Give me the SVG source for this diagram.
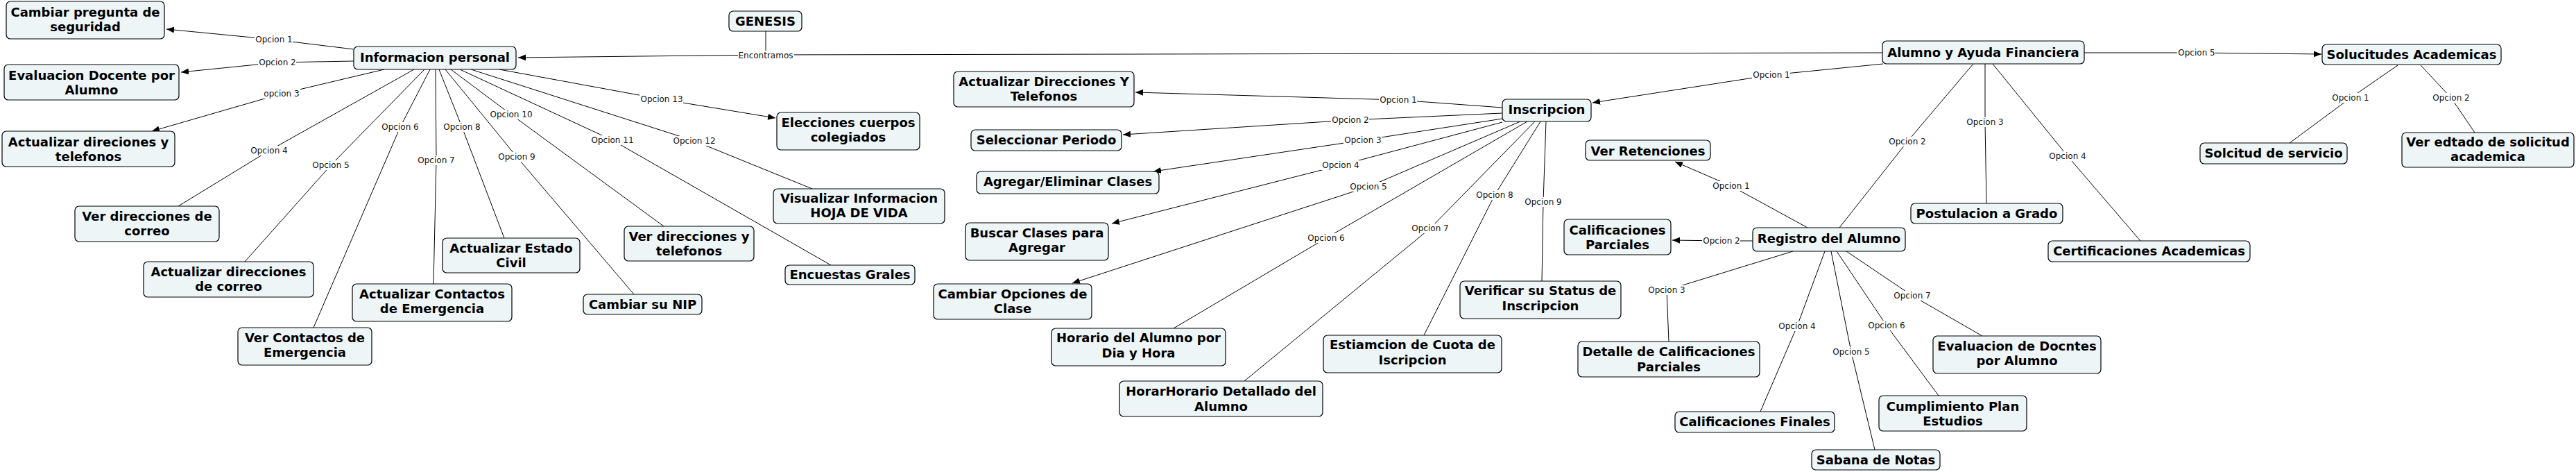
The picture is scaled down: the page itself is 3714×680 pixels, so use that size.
<svg xmlns="http://www.w3.org/2000/svg" width="3714" height="680" viewBox="0 0 3714 680">
<defs>
<style>
.node rect{fill:#eef5f7;stroke:#000;stroke-width:1.2}
.node text{font-family:"DejaVu Sans",Verdana,sans-serif;font-weight:bold;font-size:18px;text-anchor:middle;fill:#000}
.c{fill:none;stroke:#000;stroke-width:1}
.a{marker-end:url(#arr)}
.lb rect{fill:#fff}
.lb text{font-family:"DejaVu Sans",Verdana,sans-serif;font-size:12px;text-anchor:middle;fill:#111}
</style>
<marker id="arr" markerUnits="userSpaceOnUse" markerWidth="12" markerHeight="10" refX="11" refY="4.5" orient="auto">
<path d="M0,0 L11,4.5 L0,9 z" fill="#000"/>
</marker>
</defs>
<rect width="3714" height="680" fill="#fff"/>
<g id="connectors">
<polyline class="c" points="1104,45 1104,79"/>
<polyline class="c a" points="1104,79 747,83"/>
<polyline class="c" points="1104,79 2714,76"/>
<polyline class="c a" points="510,71 395,57 240,42"/>
<polyline class="c a" points="510,88 400,90 261,104"/>
<polyline class="c a" points="554,100 406,135 219,189"/>
<polyline class="c" points="597,100 388,217 257,297"/>
<polyline class="c" points="612,100 477,238 353,377"/>
<polyline class="c" points="620,100 577,183 452,472"/>
<polyline class="c" points="628,100 629,231 625,409"/>
<polyline class="c" points="633,100 666,183 727,343"/>
<polyline class="c" points="642,100 745,226 914,424"/>
<polyline class="c" points="650,100 737,165 957,326"/>
<polyline class="c" points="663,100 883,202 1198,382"/>
<polyline class="c" points="679,100 1001,203 1171,272"/>
<polyline class="c a" points="720,100 954,143 1118,170"/>
<polyline class="c a" points="2166,155 2016,144 1637,133"/>
<polyline class="c a" points="2166,163 1947,173 1619,194"/>
<polyline class="c a" points="2166,171 1965,202 1663,247"/>
<polyline class="c a" points="2166,176 1933,238 1603,322"/>
<polyline class="c a" points="2192,175 1973,269 1546,408"/>
<polyline class="c" points="2202,175 1912,343 1692,473"/>
<polyline class="c" points="2213,175 2062,329 1794,549"/>
<polyline class="c" points="2221,175 2155,281 2053,483"/>
<polyline class="c" points="2229,175 2225,291 2223,405"/>
<polyline class="c a" points="2715,92 2554,108 2296,148"/>
<polyline class="c" points="2845,92 2750,204 2652,328"/>
<polyline class="c" points="2862,92 2862,176 2864,293"/>
<polyline class="c" points="2873,92 2981,225 3086,347"/>
<polyline class="c a" points="3005,76 3167,76 3347,78"/>
<polyline class="c a" points="2606,328 2496,268 2415,233"/>
<polyline class="c a" points="2527,347 2482,347 2411,346"/>
<polyline class="c" points="2585,362 2403,418 2406,492"/>
<polyline class="c" points="2631,362 2591,470 2538,593"/>
<polyline class="c" points="2640,362 2669,507 2703,648"/>
<polyline class="c" points="2648,362 2720,469 2795,570"/>
<polyline class="c" points="2662,362 2757,426 2858,484"/>
<polyline class="c" points="3457,94 3389,141 3301,206"/>
<polyline class="c" points="3490,94 3534,141 3568,191"/>
<g class="lb"><rect x="1064" y="73" width="81" height="14"/><text x="1104" y="84">Encontramos</text></g>
<g class="lb"><rect x="367" y="50" width="55" height="14"/><text x="395" y="61">Opcion 1</text></g>
<g class="lb"><rect x="372" y="83" width="55" height="14"/><text x="400" y="94">Opcion 2</text></g>
<g class="lb"><rect x="380" y="128" width="53" height="14"/><text x="406" y="139">opcion 3</text></g>
<g class="lb"><rect x="360" y="210" width="55" height="14"/><text x="388" y="221">Opcion 4</text></g>
<g class="lb"><rect x="449" y="231" width="55" height="14"/><text x="477" y="242">Opcion 5</text></g>
<g class="lb"><rect x="549" y="176" width="55" height="14"/><text x="577" y="187">Opcion 6</text></g>
<g class="lb"><rect x="601" y="224" width="55" height="14"/><text x="629" y="235">Opcion 7</text></g>
<g class="lb"><rect x="638" y="176" width="55" height="14"/><text x="666" y="187">Opcion 8</text></g>
<g class="lb"><rect x="717" y="219" width="55" height="14"/><text x="745" y="230">Opcion 9</text></g>
<g class="lb"><rect x="705" y="158" width="63" height="14"/><text x="737" y="169">Opcion 10</text></g>
<g class="lb"><rect x="851" y="195" width="63" height="14"/><text x="883" y="206">Opcion 11</text></g>
<g class="lb"><rect x="969" y="196" width="63" height="14"/><text x="1001" y="207">Opcion 12</text></g>
<g class="lb"><rect x="922" y="136" width="63" height="14"/><text x="954" y="147">Opcion 13</text></g>
<g class="lb"><rect x="1988" y="137" width="55" height="14"/><text x="2016" y="148">Opcion 1</text></g>
<g class="lb"><rect x="1919" y="166" width="55" height="14"/><text x="1947" y="177">Opcion 2</text></g>
<g class="lb"><rect x="1937" y="195" width="55" height="14"/><text x="1965" y="206">Opcion 3</text></g>
<g class="lb"><rect x="1905" y="231" width="55" height="14"/><text x="1933" y="242">Opcion 4</text></g>
<g class="lb"><rect x="1945" y="262" width="55" height="14"/><text x="1973" y="273">Opcion 5</text></g>
<g class="lb"><rect x="1884" y="336" width="55" height="14"/><text x="1912" y="347">Opcion 6</text></g>
<g class="lb"><rect x="2034" y="322" width="55" height="14"/><text x="2062" y="333">Opcion 7</text></g>
<g class="lb"><rect x="2127" y="274" width="55" height="14"/><text x="2155" y="285">Opcion 8</text></g>
<g class="lb"><rect x="2197" y="284" width="55" height="14"/><text x="2225" y="295">Opcion 9</text></g>
<g class="lb"><rect x="2526" y="101" width="55" height="14"/><text x="2554" y="112">Opcion 1</text></g>
<g class="lb"><rect x="2722" y="197" width="55" height="14"/><text x="2750" y="208">Opcion 2</text></g>
<g class="lb"><rect x="2834" y="169" width="55" height="14"/><text x="2862" y="180">Opcion 3</text></g>
<g class="lb"><rect x="2953" y="218" width="55" height="14"/><text x="2981" y="229">Opcion 4</text></g>
<g class="lb"><rect x="3139" y="69" width="55" height="14"/><text x="3167" y="80">Opcion 5</text></g>
<g class="lb"><rect x="2468" y="261" width="55" height="14"/><text x="2496" y="272">Opcion 1</text></g>
<g class="lb"><rect x="2454" y="340" width="55" height="14"/><text x="2482" y="351">Opcion 2</text></g>
<g class="lb"><rect x="2375" y="411" width="55" height="14"/><text x="2403" y="422">Opcion 3</text></g>
<g class="lb"><rect x="2563" y="463" width="55" height="14"/><text x="2591" y="474">Opcion 4</text></g>
<g class="lb"><rect x="2641" y="500" width="55" height="14"/><text x="2669" y="511">Opcion 5</text></g>
<g class="lb"><rect x="2692" y="462" width="55" height="14"/><text x="2720" y="473">Opcion 6</text></g>
<g class="lb"><rect x="2729" y="419" width="55" height="14"/><text x="2757" y="430">Opcion 7</text></g>
<g class="lb"><rect x="3361" y="134" width="55" height="14"/><text x="3389" y="145">Opcion 1</text></g>
<g class="lb"><rect x="3506" y="134" width="55" height="14"/><text x="3534" y="145">Opcion 2</text></g>
</g>
<g id="genesis" class="node"><rect x="1051" y="16" width="105" height="29" rx="6"/><text x="1103.5" y="37">GENESIS</text></g>
<g id="informacion-personal" class="node"><rect x="510" y="67" width="234" height="33" rx="6"/><text x="627" y="89">Informacion personal</text></g>
<g id="cambiar-pregunta" class="node"><rect x="9" y="2" width="228" height="54" rx="6"/><text x="123" y="24">Cambiar pregunta de</text><text x="123" y="45">seguridad</text></g>
<g id="evaluacion-docente" class="node"><rect x="6" y="93" width="252" height="51" rx="6"/><text x="132" y="115">Evaluacion Docente por</text><text x="132" y="136">Alumno</text></g>
<g id="actualizar-direciones-telefonos" class="node"><rect x="3" y="189" width="249" height="51" rx="6"/><text x="127.5" y="211">Actualizar direciones y</text><text x="127.5" y="232">telefonos</text></g>
<g id="ver-direcciones-correo" class="node"><rect x="108" y="297" width="208" height="51" rx="6"/><text x="212" y="318">Ver direcciones de</text><text x="212" y="339">correo</text></g>
<g id="actualizar-direcciones-correo" class="node"><rect x="207" y="377" width="245" height="51" rx="6"/><text x="329.5" y="398">Actualizar direcciones</text><text x="329.5" y="419">de correo</text></g>
<g id="ver-contactos" class="node"><rect x="343" y="472" width="193" height="54" rx="6"/><text x="439.5" y="493">Ver Contactos de</text><text x="439.5" y="514">Emergencia</text></g>
<g id="actualizar-contactos" class="node"><rect x="508" y="409" width="230" height="54" rx="6"/><text x="623" y="430">Actualizar Contactos</text><text x="623" y="451">de Emergencia</text></g>
<g id="actualizar-estado-civil" class="node"><rect x="638" y="343" width="198" height="50" rx="6"/><text x="737" y="364">Actualizar Estado</text><text x="737" y="385">Civil</text></g>
<g id="cambiar-nip" class="node"><rect x="841" y="424" width="171" height="29" rx="6"/><text x="926.5" y="445">Cambiar su NIP</text></g>
<g id="ver-direcciones-telefonos" class="node"><rect x="900" y="326" width="187" height="50" rx="6"/><text x="993.5" y="347">Ver direcciones y</text><text x="993.5" y="368">telefonos</text></g>
<g id="encuestas" class="node"><rect x="1132" y="382" width="187" height="28" rx="6"/><text x="1225.5" y="402">Encuestas Grales</text></g>
<g id="visualizar" class="node"><rect x="1115" y="272" width="247" height="50" rx="6"/><text x="1238.5" y="292">Visualizar Informacion</text><text x="1238.5" y="313">HOJA DE VIDA</text></g>
<g id="elecciones" class="node"><rect x="1120" y="162" width="206" height="54" rx="6"/><text x="1223" y="183">Elecciones cuerpos</text><text x="1223" y="204">colegiados</text></g>
<g id="inscripcion" class="node"><rect x="2166" y="143" width="128" height="32" rx="6"/><text x="2230" y="164">Inscripcion</text></g>
<g id="actualizar-direcciones-y-telefonos" class="node"><rect x="1375" y="103" width="260" height="51" rx="6"/><text x="1505" y="124">Actualizar Direcciones Y</text><text x="1505" y="145">Telefonos</text></g>
<g id="seleccionar-periodo" class="node"><rect x="1400" y="187" width="217" height="30" rx="6"/><text x="1508.5" y="208">Seleccionar Periodo</text></g>
<g id="agregar-eliminar" class="node"><rect x="1408" y="247" width="263" height="32" rx="6"/><text x="1539.5" y="268">Agregar/Eliminar Clases</text></g>
<g id="buscar-clases" class="node"><rect x="1392" y="321" width="206" height="54" rx="6"/><text x="1495" y="342">Buscar Clases para</text><text x="1495" y="363">Agregar</text></g>
<g id="cambiar-opciones" class="node"><rect x="1346" y="409" width="228" height="51" rx="6"/><text x="1460" y="430">Cambiar Opciones de</text><text x="1460" y="451">Clase</text></g>
<g id="horario-dia-hora" class="node"><rect x="1516" y="473" width="251" height="54" rx="6"/><text x="1641.5" y="493">Horario del Alumno por</text><text x="1641.5" y="515">Dia y Hora</text></g>
<g id="horario-detallado" class="node"><rect x="1614" y="549" width="293" height="51" rx="6"/><text x="1760.5" y="570">HorarHorario Detallado del</text><text x="1760.5" y="592">Alumno</text></g>
<g id="estimacion-cuota" class="node"><rect x="1908" y="483" width="257" height="54" rx="6"/><text x="2036.5" y="503">Estiamcion de Cuota de</text><text x="2036.5" y="525">Iscripcion</text></g>
<g id="verificar-status" class="node"><rect x="2105" y="405" width="232" height="54" rx="6"/><text x="2221" y="425">Verificar su Status de</text><text x="2221" y="447">Inscripcion</text></g>
<g id="alumno-ayuda" class="node"><rect x="2714" y="59" width="291" height="33" rx="6"/><text x="2859.5" y="82">Alumno y Ayuda Financiera</text></g>
<g id="ver-retenciones" class="node"><rect x="2286" y="202" width="180" height="29" rx="6"/><text x="2376" y="224">Ver Retenciones</text></g>
<g id="calificaciones-parciales" class="node"><rect x="2255" y="316" width="154" height="51" rx="6"/><text x="2332" y="338">Calificaciones</text><text x="2332" y="359">Parciales</text></g>
<g id="registro-alumno" class="node"><rect x="2527" y="328" width="220" height="34" rx="6"/><text x="2637" y="350">Registro del Alumno</text></g>
<g id="detalle-calificaciones" class="node"><rect x="2275" y="492" width="262" height="51" rx="6"/><text x="2406" y="513">Detalle de Calificaciones</text><text x="2406" y="535">Parciales</text></g>
<g id="calificaciones-finales" class="node"><rect x="2415" y="593" width="230" height="30" rx="6"/><text x="2530" y="614">Calificaciones Finales</text></g>
<g id="sabana-notas" class="node"><rect x="2612" y="648" width="185" height="29" rx="6"/><text x="2704.5" y="669">Sabana de Notas</text></g>
<g id="cumplimiento-plan" class="node"><rect x="2709" y="570" width="213" height="51" rx="6"/><text x="2815.5" y="592">Cumplimiento Plan</text><text x="2815.5" y="613">Estudios</text></g>
<g id="evaluacion-docntes" class="node"><rect x="2787" y="484" width="242" height="54" rx="6"/><text x="2908" y="505">Evaluacion de Docntes</text><text x="2908" y="526">por Alumno</text></g>
<g id="postulacion-grado" class="node"><rect x="2755" y="293" width="219" height="29" rx="6"/><text x="2864.5" y="314">Postulacion a Grado</text></g>
<g id="certificaciones" class="node"><rect x="2953" y="347" width="291" height="30" rx="6"/><text x="3098.5" y="368">Certificaciones Academicas</text></g>
<g id="solucitudes" class="node"><rect x="3348" y="64" width="258" height="29" rx="6"/><text x="3477" y="85">Solucitudes Academicas</text></g>
<g id="solcitud-servicio" class="node"><rect x="3172" y="206" width="212" height="30" rx="6"/><text x="3278" y="227">Solcitud de servicio</text></g>
<g id="ver-edtado" class="node"><rect x="3463" y="191" width="248" height="50" rx="6"/><text x="3587" y="211">Ver edtado de solicitud</text><text x="3587" y="232">academica</text></g>
</svg>
